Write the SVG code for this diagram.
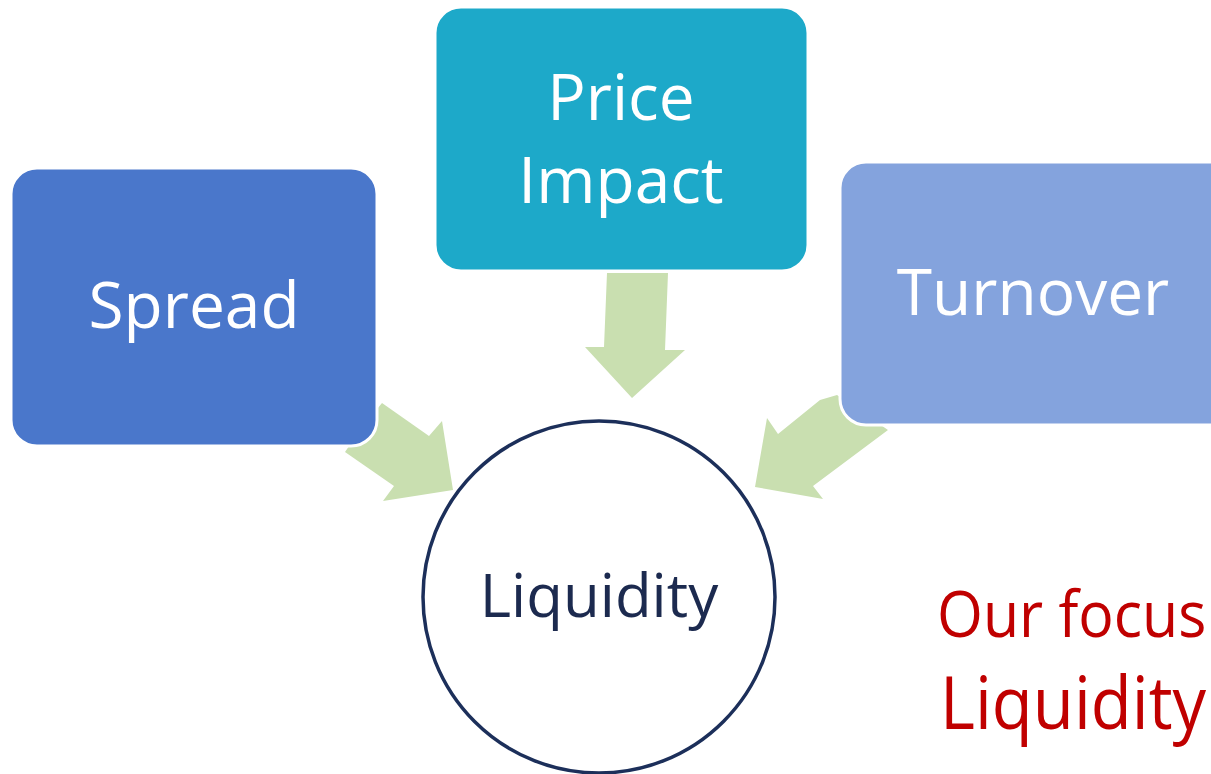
<svg xmlns="http://www.w3.org/2000/svg" width="1211" height="774" viewBox="0 0 1211 774">
  <style>
    .box { stroke: #ffffff; stroke-width: 3; }
    .arrow { fill: #C9DFB0; }
    .lbl { font-family: "Open Sans", "Noto Sans", sans-serif; fill: #ffffff; text-anchor: middle; }
    .note { font-family: "Open Sans", "Noto Sans", sans-serif; fill: #C00000; }
  </style>
  <rect width="1211" height="774" fill="#ffffff"/>

  <!-- block arrows feeding the central circle -->
  <g id="connectors">
    <polygon class="arrow" points="607,273 668,273 665,350 685,350 632,398 585,347 604,347"/>
    <polygon class="arrow" points="382,403 429,436 442,421 453,490 383,501 394,486 345,452 360,430"/>
    <polygon class="arrow" points="837,395 888,430 813,486 823,499 755,487 767,418 778,434 820,400"/>
  </g>

  <g id="spread">
    <rect class="box" x="11" y="168" width="366" height="278" rx="26" fill="#4A77CB"/>
    <text class="lbl" x="194" y="328" font-size="64">Spread</text>
  </g>

  <g id="price-impact">
    <rect class="box" x="435" y="7" width="373" height="264" rx="26" fill="#1DA9C9"/>
    <text class="lbl" x="621" y="120" font-size="64">Price</text>
    <text class="lbl" x="621" y="203" font-size="64">Impact</text>
  </g>

  <g id="turnover">
    <rect class="box" x="840" y="162" width="400" height="263" rx="26" fill="#84A3DD"/>
    <text class="lbl" x="1033" y="315" font-size="64">Turnover</text>
  </g>

  <g id="liquidity">
    <circle cx="599" cy="597" r="176" fill="#ffffff" stroke="#1C2F5A" stroke-width="3.5"/>
    <text x="599" y="617" font-size="60" text-anchor="middle" font-family="Open Sans, Noto Sans, sans-serif" fill="#1C2A4F">Liquidity</text>
  </g>

  <!-- side note, stretched vertically to keep the narrow width -->
  <g id="focus-note">
    <text class="note" transform="translate(937,637) scale(1,1.09)" x="0" y="0" font-size="59">Our focus</text>
    <text class="note" transform="translate(940,729) scale(1,1.1)" x="0" y="0" font-size="67">Liquidity</text>
  </g>
</svg>
